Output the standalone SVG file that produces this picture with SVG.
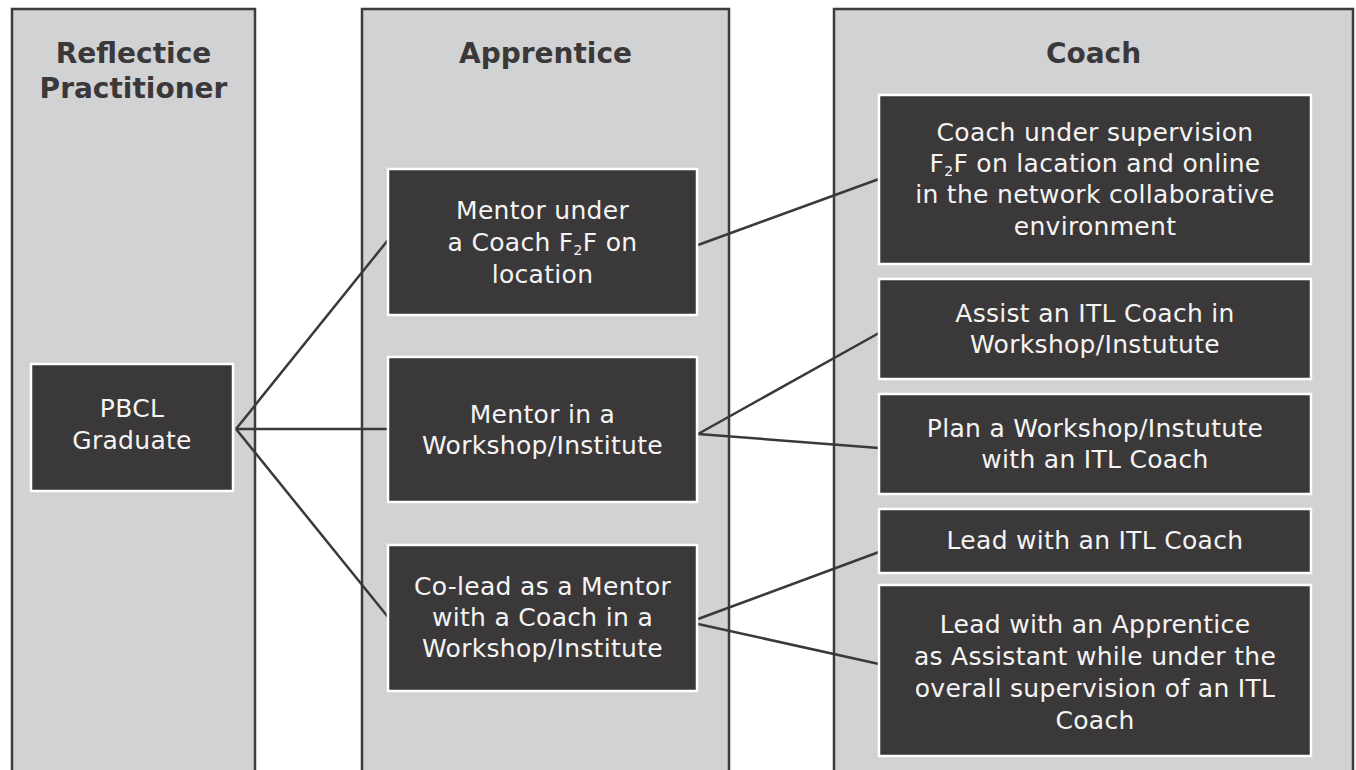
<svg xmlns="http://www.w3.org/2000/svg" width="1356" height="770" viewBox="0 0 1356 770">
<style>
.col{fill:#d1d2d4;stroke:#3d3b3c;stroke-width:2.5}
.box{fill:#3b3839;stroke:#ffffff;stroke-width:2.5}
.hdr{font-family:"DejaVu Sans","Liberation Sans",sans-serif;font-weight:bold;font-size:28px;fill:#3b3839;text-anchor:middle}
.t{font-family:"DejaVu Sans","Liberation Sans",sans-serif;font-size:25px;letter-spacing:0.3px;fill:#f4f4f4;text-anchor:middle}
.sub{font-size:14px}
.conn{stroke:#3b3839;stroke-width:2.5;fill:none}
</style>
<rect x="0" y="0" width="1356" height="770" fill="#ffffff"/>
<g id="columns">
<rect class="col" x="12" y="9" width="243" height="775"/>
<rect class="col" x="362" y="9" width="367" height="775"/>
<rect class="col" x="834" y="9" width="519" height="775"/>
<text class="hdr" x="133.5" y="63">Reflectice</text>
<text class="hdr" x="133.5" y="98">Practitioner</text>
<text class="hdr" x="545.5" y="63">Apprentice</text>
<text class="hdr" x="1093.5" y="63">Coach</text>
</g>
<g id="connectors">
<line class="conn" x1="236" y1="429" x2="388" y2="240"/>
<line class="conn" x1="236" y1="429" x2="388" y2="429"/>
<line class="conn" x1="236" y1="429" x2="388" y2="617"/>
<line class="conn" x1="698" y1="245" x2="879" y2="179"/>
<line class="conn" x1="698" y1="434" x2="879" y2="333"/>
<line class="conn" x1="698" y1="434" x2="879" y2="448"/>
<line class="conn" x1="698" y1="619" x2="879" y2="552"/>
<line class="conn" x1="698" y1="624" x2="879" y2="664"/>
</g>
<g id="pbcl">
<rect class="box" x="31" y="364" width="202" height="127"/>
<text class="t" x="132" y="417">PBCL</text>
<text class="t" x="132" y="449">Graduate</text>
</g>
<g id="mentor-under">
<rect class="box" x="388" y="169" width="309" height="146"/>
<text class="t" x="542.5" y="219">Mentor under</text>
<text class="t" x="542.5" y="251">a Coach F<tspan class="sub" dy="4">2</tspan><tspan dy="-4">F on</tspan></text>
<text class="t" x="542.5" y="283">location</text>
</g>
<g id="mentor-in">
<rect class="box" x="388" y="357" width="309" height="145"/>
<text class="t" x="542.5" y="423">Mentor in a</text>
<text class="t" x="542.5" y="454">Workshop/Institute</text>
</g>
<g id="colead">
<rect class="box" x="388" y="545" width="309" height="146"/>
<text class="t" x="542.5" y="595">Co-lead as a Mentor</text>
<text class="t" x="542.5" y="626">with a Coach in a</text>
<text class="t" x="542.5" y="657">Workshop/Institute</text>
</g>
<g id="coach-supervision">
<rect class="box" x="879" y="95" width="432" height="169"/>
<text class="t" x="1095" y="141">Coach under supervision</text>
<text class="t" x="1095" y="172">F<tspan class="sub" dy="4">2</tspan><tspan dy="-4">F on lacation and online</tspan></text>
<text class="t" x="1095" y="203">in the network collaborative</text>
<text class="t" x="1095" y="235">environment</text>
</g>
<g id="assist">
<rect class="box" x="879" y="279" width="432" height="100"/>
<text class="t" x="1095" y="322">Assist an ITL Coach in</text>
<text class="t" x="1095" y="353">Workshop/Instutute</text>
</g>
<g id="plan">
<rect class="box" x="879" y="394" width="432" height="100"/>
<text class="t" x="1095" y="437">Plan a Workshop/Instutute</text>
<text class="t" x="1095" y="468">with an ITL Coach</text>
</g>
<g id="lead-itl">
<rect class="box" x="879" y="509" width="432" height="64"/>
<text class="t" x="1095" y="549">Lead with an ITL Coach</text>
</g>
<g id="lead-apprentice">
<rect class="box" x="879" y="585" width="432" height="171"/>
<text class="t" x="1095" y="633">Lead with an Apprentice</text>
<text class="t" x="1095" y="665">as Assistant while under the</text>
<text class="t" x="1095" y="697">overall supervision of an ITL</text>
<text class="t" x="1095" y="729">Coach</text>
</g>
</svg>
